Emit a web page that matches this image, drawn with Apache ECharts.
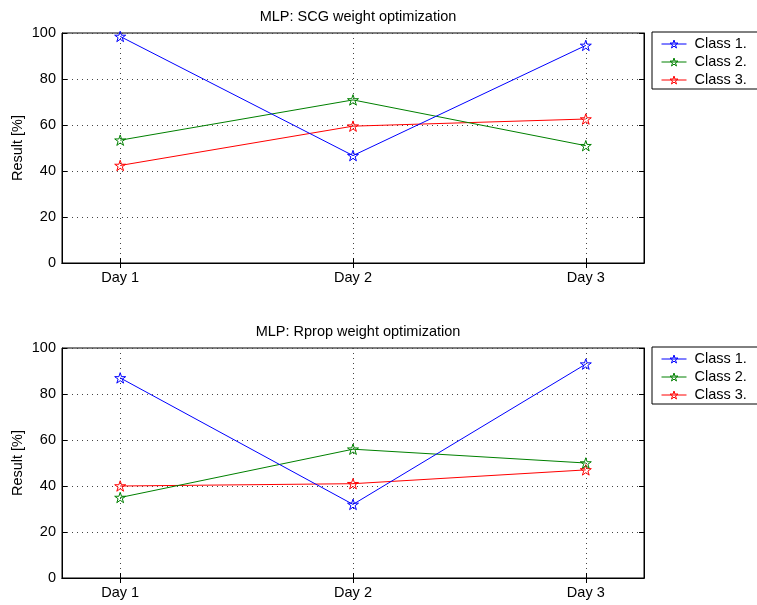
<!DOCTYPE html>
<html>
<head>
<meta charset="utf-8">
<script src="https://cdn.jsdelivr.net/npm/echarts@6/dist/echarts.min.js"></script>
<style>
html,body{margin:0;padding:0;background:#fff;}
#chart{width:757px;height:605px;}
</style>
</head>
<body>
<div id="chart"></div>
<script>
const categories = ['Day 1', 'Day 2', 'Day 3'];
const seriesNames = ['Class 1.', 'Class 2.', 'Class 3.'];
const titles = ['MLP: SCG weight optimization', 'MLP: Rprop weight optimization'];
const yTicks = [0, 20, 40, 60, 80, 100];
const scgClass1 = [98.5, 46.7, 94.6];
const scgClass2 = [53.4, 70.9, 51.0];
const scgClass3 = [42.4, 59.5, 62.6];
const rpropClass1 = [87, 32, 93];
const rpropClass2 = [35, 56, 50];
const rpropClass3 = [40, 41, 47];
const colors = ['#0000ff', '#008000', '#ff0000'];

const star = 'path://M0 -1 L0.225 -0.309 L0.951 -0.309 L0.363 0.118 L0.588 0.809 L0 0.382 L-0.588 0.809 L-0.363 0.118 L-0.951 -0.309 L-0.225 -0.309 Z';
const FONT = 'Liberation Sans, Arial, Helvetica, sans-serif';
const FS = 14.5;
const dayVals = categories.map((c, i) => i + 1);

const panels = [
  {top: 33, data: [scgClass1, scgClass2, scgClass3]},
  {top: 348, data: [rpropClass1, rpropClass2, rpropClass3]}
];

const grids = [], xAxes = [], yAxes = [], series = [], legends = [], titleOpts = [];
panels.forEach((p, gi) => {
  grids.push({left: 62, right: 113, top: p.top, height: 230, show: true, borderColor: '#000', borderWidth: 1, backgroundColor: '#fff'});
  titleOpts.push({text: titles[gi], left: 353, top: p.top - 29, textAlign: 'center',
    textStyle: {fontFamily: FONT, fontSize: FS, fontWeight: 'normal', color: '#000'}});
  xAxes.push({type: 'value', gridIndex: gi, min: 0.75, max: 3.25, position: 'bottom',
    axisLine: {show: true, lineStyle: {color: '#000', width: 1}},
    axisTick: {show: true, inside: true, length: 5, customValues: dayVals, lineStyle: {color: '#000'}},
    axisLabel: {show: true, customValues: dayVals, margin: 7, color: '#000', fontFamily: FONT, fontSize: FS,
      formatter: v => categories[Math.round(v) - 1] || ''},
    splitLine: {show: true, lineStyle: {color: '#444', type: [1, 4], width: 1}}
  });
  xAxes.push({type: 'value', gridIndex: gi, min: 0.75, max: 3.25, position: 'top',
    axisLine: {show: true, lineStyle: {color: '#000', width: 1}},
    axisTick: {show: true, inside: true, length: 5, customValues: dayVals, lineStyle: {color: '#000'}},
    axisLabel: {show: false}, splitLine: {show: false}
  });
  yAxes.push({type: 'value', gridIndex: gi, min: 0, max: 100, interval: 20, position: 'left',
    name: 'Result [%]', nameLocation: 'middle', nameGap: 37, nameRotate: 90, nameMoveOverlap: false,
    nameTextStyle: {fontFamily: FONT, fontSize: FS, color: '#000'},
    axisLine: {show: true, lineStyle: {color: '#000', width: 1}},
    axisTick: {show: true, inside: true, length: 5, lineStyle: {color: '#000'}},
    axisLabel: {color: '#000', fontFamily: FONT, fontSize: FS, margin: 6},
    splitLine: {show: true, lineStyle: {color: '#444', type: [1, 4], width: 1}}
  });
  yAxes.push({type: 'value', gridIndex: gi, min: 0, max: 100, interval: 20, position: 'right',
    axisLine: {show: true, lineStyle: {color: '#000', width: 1}},
    axisTick: {show: true, inside: true, length: 5, lineStyle: {color: '#000'}},
    axisLabel: {show: false}, splitLine: {show: false}
  });
  p.data.forEach((vals, si) => {
    series.push({
      type: 'line', name: seriesNames[si], xAxisIndex: gi * 2, yAxisIndex: gi * 2,
      data: vals.map((v, i) => [dayVals[i], v]),
      symbol: star, symbolSize: 11, symbolKeepAspect: true, showAllSymbol: true,
      lineStyle: {color: colors[si], width: 1},
      itemStyle: {color: 'rgba(255,255,255,0)', borderColor: colors[si], borderWidth: 1},
      emphasis: {disabled: true}, animation: false, z: 5 - si
    });
  });
  legends.push({
    data: seriesNames, orient: 'vertical', left: 652, top: p.top - 1,
    backgroundColor: '#fff', borderColor: '#000', borderWidth: 1,
    padding: [4, 30, 1, 9], itemGap: 2, itemWidth: 25, itemHeight: 10,
    itemStyle: {color: 'rgba(255,255,255,0)', borderWidth: 1},
    lineStyle: {width: 1},
    textStyle: {fontFamily: FONT, fontSize: FS, color: '#000', lineHeight: 16, padding: [0, 0, 0, 3]},
    selectedMode: false
  });
});

const chart = echarts.init(document.getElementById('chart'), null, {renderer: 'canvas'});
chart.setOption({
  animation: false,
  backgroundColor: '#fff',
  title: titleOpts,
  grid: grids,
  xAxis: xAxes,
  yAxis: yAxes,
  legend: legends,
  series: series
});
</script>
</body>
</html>
